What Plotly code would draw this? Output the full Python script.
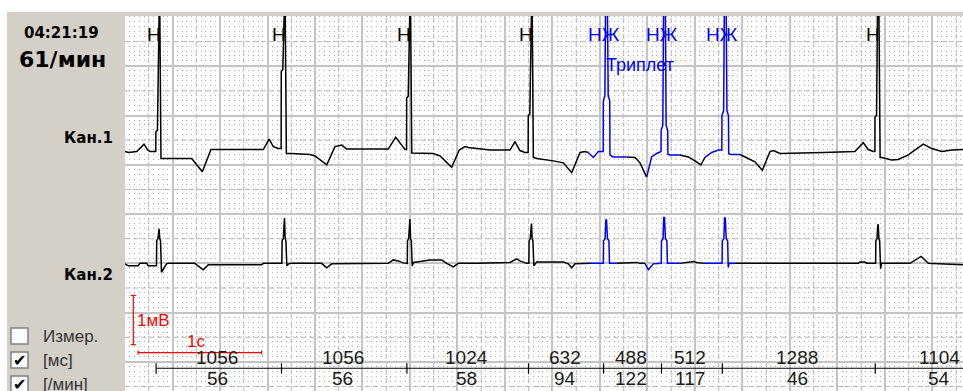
import numpy as np
import plotly.graph_objects as go

# ------------------------------------------------------------------ data
RR_MS = [1056, 1056, 1024, 632, 488, 512, 1288, 1104]
HR_BPM = [56, 56, 58, 94, 122, 117, 46, 54]
BEAT_LABELS = ["Н", "Н", "Н", "Н", "НЖ", "НЖ", "НЖ", "Н"]
FIRST_BEAT_MS = 262
TIME_TEXT = "04:21:19"
RATE_TEXT = "61/мин"
CHANNEL_NAMES = ["Кан.1", "Кан.2"]
EPISODE_LABEL = "Триплет"
CHECKBOXES = ["Измер.", "[мс]", "[/мин]"]
CHECKED = [False, True, True]

# channel 1 (time ms, amplitude mV relative to its baseline)
CH1_T = [0, 28, 99, 160, 191, 211, 259, 260, 273, 283, 291, 303, 562, 651, 724, 1165, 1213, 1249, 1291,
         1315, 1316, 1329, 1339, 1347, 1359, 1404, 1558, 1600, 1699, 1768, 1825, 1867, 2217, 2280, 2330, 2358,
         2371, 2372, 2385, 2395, 2403, 2415, 2442, 2596, 2653, 2751, 2815, 2863, 2891, 3074, 3242, 3284, 3326, 3368,
         3395, 3396, 3409, 3419, 3427, 3439, 3467, 3607, 3691, 3762, 3832, 3874, 3901, 3944, 3986,
         4027, 4028, 4041, 4049, 4061, 4069, 4082, 4084, 4109, 4225, 4295, 4337, 4393, 4435, 4477,
         4514, 4515, 4529, 4537, 4549, 4557, 4570, 4572, 4589, 4673, 4744, 4800, 4850, 4884, 4941, 4996,
         5026, 5027, 5041, 5049, 5061, 5069, 5082, 5084, 5095, 5179, 5221, 5305, 5367, 5432, 5460, 5516, 5880,
         6147, 6217, 6259, 6301,
         6315, 6316, 6329, 6339, 6347, 6359, 6372, 6456, 6512, 6596, 6722, 6794, 6878, 6962, 7057]
CH1_MV = [-0.03, -0.05, -0.03, 0.12, 0.00, -0.03, -0.03, 0.37, 0.40, 3.40, 3.40, -0.17, -0.17, -0.44, 0.01, 0.01, 0.22, 0.07, 0.03,
          0.03, 1.60, 1.63, 3.40, 3.40, -0.07, -0.07, -0.09, -0.12, -0.30, 0.07, 0.10, 0.02, 0.02, 0.26, 0.10, 0.01,
          0.01, 1.06, 1.09, 3.40, 3.40, -0.06, -0.06, -0.07, -0.12, -0.35, 0.00, 0.07, 0.05, 0.00, 0.00, 0.17, -0.01, -0.05,
          -0.05, 0.70, 0.73, 3.40, 3.40, -0.15, -0.17, -0.22, -0.26, -0.46, -0.05, -0.03, -0.05, -0.15, -0.03,
          -0.03, 1.00, 1.10, 3.40, 3.40, 1.10, 1.00, -0.10, -0.14, -0.14, -0.15, -0.26, -0.55, -0.14, -0.07,
          -0.03, 0.40, 0.50, 3.40, 3.40, 0.50, 0.40, -0.09, -0.10, -0.10, -0.14, -0.22, -0.30, -0.15, -0.05, 0.00,
          0.00, 0.70, 0.80, 3.40, 3.40, 0.80, 0.70, -0.07, -0.09, -0.09, -0.14, -0.24, -0.41, -0.03, -0.01, -0.07, -0.05,
          -0.03, 0.15, 0.01, -0.03,
          -0.03, 0.67, 0.70, 3.40, 3.40, -0.15, -0.15, -0.20, -0.19, -0.10, 0.12, 0.03, -0.03, 0.00, 0.01]

# channel 2
CH2_T = [0, 28, 110, 126, 183, 196, 265, 267, 277, 283, 287, 293, 299, 307, 322, 350, 365, 587, 659, 701, 1151, 1165,
         1321, 1323, 1333, 1339, 1343, 1349, 1355, 1363, 1378, 1404, 1656, 1699, 1741, 2217, 2259, 2301, 2343,
         2377, 2379, 2389, 2395, 2399, 2405, 2411, 2419, 2430, 2568, 2667, 2709, 2765, 2807, 2962, 3242, 3298, 3326, 3382,
         3401, 3403, 3413, 3419, 3423, 3429, 3435, 3443, 3467, 3691, 3733, 3762, 3790, 3916,
         4028, 4030, 4043, 4049, 4055, 4063, 4075, 4080, 4140, 4309, 4337, 4379, 4407, 4449, 4505,
         4516, 4518, 4531, 4537, 4543, 4551, 4563, 4568, 4673, 4744, 4786, 4814, 4884,
         5028, 5030, 5043, 5049, 5055, 5063, 5075, 5080, 5087, 5137, 6175, 6189, 6231, 6245,
         6321, 6323, 6333, 6339, 6343, 6349, 6355, 6363, 6371, 6611, 6704, 6737, 6765, 6850, 7057]
CH2_MV = [-0.01, -0.05, -0.05, 0.00, 0.00, -0.05, -0.05, 0.46, 0.50, 0.70, 0.70, 0.50, 0.46, -0.18, -0.11, -0.01, 0.00, 0.00, -0.13, -0.03, -0.03, 0.00,
          0.00, 0.46, 0.50, 0.92, 0.92, 0.50, 0.46, -0.05, -0.01, 0.00, 0.00, -0.09, -0.01, 0.00, 0.07, 0.05, 0.01,
          0.00, 0.46, 0.50, 0.90, 0.90, 0.50, 0.46, -0.05, 0.02, 0.07, 0.07, 0.00, -0.07, 0.00, 0.00, 0.02, 0.09, 0.05, 0.00,
          0.00, 0.46, 0.50, 0.81, 0.81, 0.50, 0.46, -0.05, 0.03, 0.03, -0.01, -0.09, -0.01, 0.00,
          0.00, 0.46, 0.50, 0.88, 0.88, 0.50, 0.46, 0.00, 0.00, 0.02, 0.00, 0.00, -0.13, -0.01, 0.00,
          0.00, 0.46, 0.50, 0.93, 0.93, 0.50, 0.46, 0.00, 0.00, 0.02, 0.04, 0.02, 0.00,
          0.00, 0.46, 0.50, 0.92, 0.92, 0.50, 0.46, -0.08, 0.00, 0.00, 0.00, 0.03, 0.03, 0.00,
          0.00, 0.46, 0.50, 0.78, 0.78, 0.50, 0.46, -0.11, 0.00, 0.00, 0.14, 0.07, 0.00, -0.01, -0.03]

# supraventricular (blue) segments, ms
CH1_SVE_WINDOWS = [(3901, 4225), (4393, 4673), (4884, 5179)]
CH2_SVE_WINDOWS = [(3916, 4140), (4379, 4673), (4884, 5137)]

# ------------------------------------------------------------------ layout constants
W, H = 963, 391
ML, MT = 125, 16
X_RANGE = [0, 7057]
Y_RANGE = [-0.59, 7.02]
CH_OFFSET = [4.3, 2.0]
PANEL = "#d4d0c8"
BLUE = "#0000ff"
SANS = "Liberation Sans, Arial, sans-serif"
BOLD = "DejaVu Sans, sans-serif"


def pxx(x):
    return (x - ML) / (W - ML)


def pxy(y):
    return (H - y) / (H - MT)


fig = go.Figure()

# ECG traces
for t, mv, wins, off in [(CH1_T, CH1_MV, CH1_SVE_WINDOWS, CH_OFFSET[0]),
                         (CH2_T, CH2_MV, CH2_SVE_WINDOWS, CH_OFFSET[1])]:
    t = np.asarray(t, float)
    y = np.asarray(mv, float) + off
    inside = np.zeros(len(t), bool)
    inblue = np.zeros(len(t), bool)
    for a, b in wins:
        inside |= (t > a) & (t < b)
        inblue |= (t >= a) & (t <= b)
    yk = [None if m else v for v, m in zip(y.tolist(), inside)]
    yb = [v if m else None for v, m in zip(y.tolist(), inblue)]
    fig.add_trace(go.Scatter(x=t.tolist(), y=yk, mode="lines",
                             line=dict(color="#000000", width=1.5), hoverinfo="skip"))
    fig.add_trace(go.Scatter(x=t.tolist(), y=yb, mode="lines",
                             line=dict(color=BLUE, width=1.5), hoverinfo="skip"))

# beat times
beat_t = [FIRST_BEAT_MS]
for rr in RR_MS:
    beat_t.append(beat_t[-1] + rr)

# RR ruler
RULER_Y = -0.128
rx, ry = [beat_t[0], X_RANGE[1]], [RULER_Y, RULER_Y]
for bt in beat_t:
    rx += [None, bt, bt]
    ry += [None, RULER_Y + 0.10, RULER_Y - 0.11]
fig.add_trace(go.Scatter(x=rx, y=ry, mode="lines", line=dict(color="#000000", width=1.2),
                         hoverinfo="skip"))

# red calibration marks
fig.add_trace(go.Scatter(
    x=[70, 70, None, 49, 91, None, 49, 91, None, 110, 1150, None, 110, 110, None, 1150, 1150],
    y=[0.35, 1.35, None, 1.35, 1.35, None, 0.35, 0.35, None, 0.19, 0.19, None, 0.15, 0.23, None, 0.15, 0.23],
    mode="lines", line=dict(color="#ff0000", width=1.2), hoverinfo="skip"))

ann = []
# beat labels
for bt, lab in zip(beat_t[:8], BEAT_LABELS):
    sve = lab != "Н"
    ann.append(dict(x=bt, y=6.65, xref="x", yref="y", text=lab, showarrow=False,
                    xanchor="center", yanchor="middle", xshift=0 if sve else -2.5,
                    font=dict(family=SANS, size=19, color=BLUE if sve else "#000000")))
ann.append(dict(x=beat_t[4], y=6.03, xref="x", yref="y", text=EPISODE_LABEL, showarrow=False,
                xanchor="left", yanchor="middle", font=dict(family=SANS, size=18, color=BLUE)))
# RR and HR
for i, (rr, hr) in enumerate(zip(RR_MS, HR_BPM)):
    mid = (beat_t[i] + beat_t[i + 1]) / 2
    ann.append(dict(x=mid, y=0.09, xref="x", yref="y", text=str(rr), showarrow=False,
                    xanchor="center", yanchor="middle", xshift=-1.5,
                    font=dict(family=SANS, size=19, color="#1a1a1a")))
    ann.append(dict(x=mid, y=-0.345, xref="x", yref="y", text=str(hr), showarrow=False,
                    xanchor="center", yanchor="middle", xshift=-1.5,
                    font=dict(family=SANS, size=19, color="#1a1a1a")))
# calibration labels
ann.append(dict(x=84, y=0.85, xref="x", yref="y", text="1мВ", showarrow=False, xanchor="left",
                yanchor="middle", font=dict(family=SANS, size=17, color="#ff0000")))
ann.append(dict(x=598, y=0.42, xref="x", yref="y", text="1с", showarrow=False, xanchor="center",
                yanchor="middle", font=dict(family=SANS, size=17, color="#ff0000")))

# left panel
ann.append(dict(x=pxx(62), y=pxy(32.5), xref="paper", yref="paper", text="<b>%s</b>" % TIME_TEXT,
                showarrow=False, xanchor="center", yanchor="middle",
                font=dict(family=BOLD, size=15, color="#000000")))
ann.append(dict(x=pxx(62.5), y=pxy(60), xref="paper", yref="paper", text="<b>%s</b>" % RATE_TEXT,
                showarrow=False, xanchor="center", yanchor="middle",
                font=dict(family=BOLD, size=22, color="#000000")))
for name, ypx in zip(CHANNEL_NAMES, [137.5, 275]):
    ann.append(dict(x=pxx(115), y=pxy(ypx), xref="paper", yref="paper", text="<b>%s</b>" % name,
                    showarrow=False, xanchor="right", yanchor="middle",
                    font=dict(family=BOLD, size=15, color="#000000")))

shapes = []
for lab, chk, ypx in zip(CHECKBOXES, CHECKED, [336, 360, 384]):
    shapes.append(dict(type="rect", xref="paper", yref="paper", x0=pxx(11), x1=pxx(28),
                       y0=pxy(ypx + 8), y1=pxy(ypx - 8), fillcolor="#ffffff",
                       line=dict(color="#808080", width=1.5), layer="above"))
    if chk:
        ann.append(dict(x=pxx(19.5), y=pxy(ypx), xref="paper", yref="paper", text="<b>✔</b>",
                        showarrow=False, xanchor="center", yanchor="middle",
                        font=dict(family="DejaVu Sans", size=16, color="#000000")))
    ann.append(dict(x=pxx(41), y=pxy(ypx), xref="paper", yref="paper", text=lab,
                    showarrow=False, xanchor="left", yanchor="middle",
                    font=dict(family=SANS, size=17, color="#333333")))

# white strips outside the window
shapes.append(dict(type="rect", xref="paper", yref="paper", x0=pxx(0), x1=1.0, y0=pxy(12), y1=pxy(0),
                   fillcolor="#ffffff", line=dict(width=0), layer="above"))
shapes.append(dict(type="rect", xref="paper", yref="paper", x0=pxx(0), x1=pxx(7), y0=0, y1=pxy(0),
                   fillcolor="#ffffff", line=dict(width=0), layer="above"))

# dashed half-division lines
k = 200
while k < X_RANGE[1]:
    if k % 400:
        shapes.append(dict(type="line", xref="x", yref="y", x0=k, x1=k, y0=Y_RANGE[0], y1=Y_RANGE[1],
                           line=dict(color="#b8b8b8", width=1, dash="5px,3px"), layer="below"))
    k += 200
v = 0.5
while v < Y_RANGE[1]:
    if v % 1:
        shapes.append(dict(type="line", xref="x", yref="y", x0=X_RANGE[0], x1=X_RANGE[1], y0=v, y1=v,
                           line=dict(color="#b8b8b8", width=1, dash="5px,3px"), layer="below"))
    v += 0.5
shapes.append(dict(type="line", xref="x", yref="y", x0=X_RANGE[0], x1=X_RANGE[1], y0=-0.5, y1=-0.5,
                   line=dict(color="#b8b8b8", width=1, dash="5px,3px"), layer="below"))

fig.update_layout(
    width=W, height=H, margin=dict(l=ML, r=0, t=MT, b=0, pad=0),
    paper_bgcolor=PANEL, plot_bgcolor="#ffffff", showlegend=False,
    annotations=ann, shapes=shapes,
    xaxis=dict(range=X_RANGE, showgrid=True, dtick=400, tick0=0, gridcolor="#c4c4c4", gridwidth=1.5,
               minor=dict(dtick=40, tick0=0, showgrid=True, gridcolor="#b0b0b0", gridwidth=1,
                          griddash="1px,3.93px"),
               showticklabels=False, ticks="", zeroline=False, showline=False, fixedrange=True),
    yaxis=dict(range=Y_RANGE, showgrid=True, dtick=1, tick0=0, gridcolor="#c4c4c4", gridwidth=1.5,
               showticklabels=False, ticks="", zeroline=False, showline=False, fixedrange=True),
)

fig.write_html("out.html", config=dict(displayModeBar=False))
